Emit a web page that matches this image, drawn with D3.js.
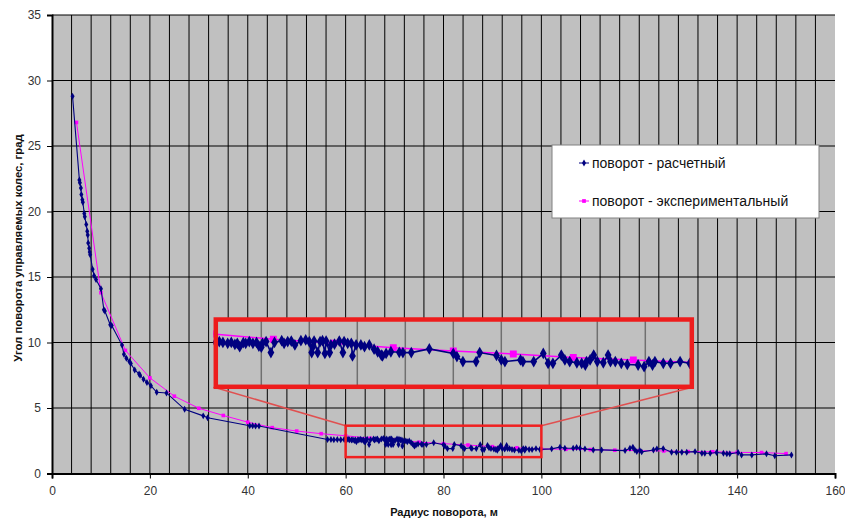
<!DOCTYPE html>
<html>
<head>
<meta charset="utf-8">
<script src="https://cdn.jsdelivr.net/npm/d3@7"></script>
<style>
  body { margin: 0; background: #fff; }
  svg { display: block; font-family: "Liberation Sans", Arial, sans-serif; }
</style>
</head>
<body>
<svg width="845" height="520"></svg>
<script>
// calculated turn: radius (m) and steering angle (deg)
const calcR = [4.2, 5.6, 5.7, 5.9, 6.0, 6.2, 6.3, 6.6, 6.7, 7.0, 7.2, 7.3, 7.4, 7.6, 7.7, 7.8, 8.3, 8.6, 9.0, 10.0,
  10.6, 10.8, 11.9, 12.2, 14.3, 14.7, 15.2, 15.8, 16.1, 16.9, 17.8, 18.0, 18.7, 19.4, 20.2, 21.4, 23.4, 27.1, 30.9, 31.8,
  40.4, 41.0, 41.6, 42.3, 56.3, 57.0, 57.6, 58.3, 59.0, 59.7,
  60.2, 60.5, 60.8, 61.2, 61.5, 61.8, 62.0, 62.2, 62.5, 62.7, 63.0, 63.3, 63.6, 63.8, 64.0, 64.1, 64.4, 64.8, 65.1, 65.7,
  65.9, 66.2, 66.5, 66.8, 67.3, 67.7, 68.0, 68.2, 68.3, 68.4, 68.7, 68.9, 69.1, 69.3, 69.4, 69.7, 69.8, 70.1, 70.5, 70.8,
  70.9, 71.2, 71.5, 71.6, 71.9, 72.3, 72.6, 73.0, 73.4, 73.7, 74.0, 74.1, 74.4, 74.8, 75.5, 75.8, 76.5, 78.0, 80.0, 80.3,
  80.8, 81.9, 82.2, 83.6, 84.0, 84.3, 85.6, 85.8, 86.7, 87.5, 87.9, 88.3, 89.0, 89.3, 89.7, 90.3, 90.7, 91.0, 91.1, 91.4,
  91.7, 92.0, 92.5, 92.9, 93.1, 93.5, 94.0, 94.5, 95.4, 95.9, 96.3, 96.6, 96.8, 97.5, 98.1, 98.9, 99.7,
  102.1, 103.8, 104.8, 106.5, 107.2, 107.9, 108.9, 110.6, 112.3, 117.1, 118.1, 118.7, 119.1, 119.5, 120.1, 120.5, 122.9,
  123.6, 124.9, 126.6, 127.6, 128.7, 129.7, 131.4, 132.8, 133.4, 134.5, 135.8, 137.2, 137.9, 138.5, 140.2, 140.9, 143.0,
  146.0, 147.7, 151.1];
const calcAngle = [28.8, 22.4, 22.2, 21.8, 21.3, 20.9, 20.7, 19.85, 19.6, 19.0, 18.5, 18.2, 17.6, 17.2, 16.9, 16.7, 15.6, 15.1, 14.8, 14.1,
  12.5, 12.4, 11.35, 11.3, 9.8, 9.1, 8.8, 8.55, 8.4, 7.9, 7.6, 7.5, 7.2, 6.95, 6.7, 6.2, 6.15, 4.9, 4.4, 4.25,
  3.65, 3.64, 3.62, 3.62, 2.6, 2.6, 2.58, 2.6, 2.58, 2.6,
  2.58, 2.61, 2.58, 2.55, 2.58, 2.51, 2.55, 2.43, 2.57, 2.55, 2.61, 2.55, 2.58, 2.45, 2.41, 2.55, 2.61, 2.22, 2.58, 2.64,
  2.55, 2.61, 2.63, 2.49, 2.64, 2.67, 2.61, 2.22, 2.43, 2.63, 2.22, 2.61, 2.64, 2.19, 2.63, 2.22, 2.49, 2.52, 2.63, 2.22,
  2.61, 2.55, 2.55, 2.1, 2.49, 2.49, 2.43, 2.49, 2.34, 2.25, 2.13, 2.1, 2.19, 2.25, 2.23, 2.22, 2.22, 2.35, 2.19, 2.08,
  1.9, 1.9, 2.22, 2.12, 1.96, 1.9, 1.96, 1.9, 1.9, 2.19, 1.84, 1.84, 2.13, 1.96, 1.9, 1.86, 1.84, 1.78, 1.9, 1.96,
  2.13, 1.9, 1.86, 2.13, 1.9, 1.9, 1.84, 1.8, 1.78, 1.72, 1.9, 1.78, 1.9, 1.84, 1.84, 1.9, 1.84,
  1.88, 2.01, 1.93, 1.93, 1.98, 1.93, 1.88, 1.8, 1.8, 1.75, 1.93, 2.01, 1.8, 1.67, 1.75, 1.65, 1.8,
  1.88, 1.9, 1.63, 1.63, 1.63, 1.63, 1.67, 1.55, 1.55, 1.55, 1.6, 1.55, 1.5, 1.5, 1.6, 1.42, 1.42,
  1.5, 1.35, 1.42];

// experimental turn
const expR = [5, 10, 15, 20, 25, 30, 35, 40, 45, 50, 55, 60, 65, 70, 75, 80, 85, 90, 95, 100,
  105, 110, 115, 120, 125, 130, 135, 140, 145, 150];
const expAngle = [26.8, 13.8, 9.4, 7.3, 5.9, 4.98, 4.43, 3.92, 3.5, 3.24, 3.04, 2.88, 2.69, 2.55, 2.39, 2.28, 2.17, 2.05, 1.96, 1.87,
  1.85, 1.82, 1.78, 1.74, 1.72, 1.67, 1.66, 1.61, 1.6, 1.52];

const seriesNames = ["поворот - расчетный", "поворот - экспериментальный"];
const xTicks = [0, 20, 40, 60, 80, 100, 120, 140, 160];
const yTicks = [0, 5, 10, 15, 20, 25, 30, 35];
const xTitle = "Радиус поворота, м";
const yTitle = "Угол поворота управляемых колес, град";

// zoomed window (main chart) and its enlarged view
const zoomX = [60, 100];
const zoomY = [1.25, 3.65];
const insetY = [1.0, 3.4];

const navy = "#000080";
const pink = "#ff00ff";

const calc = calcR.map((r, i) => ({ r: r, a: calcAngle[i] }));
const exper = expR.map((r, i) => ({ r: r, a: expAngle[i] }));

const svg = d3.select("svg");

const x = d3.scaleLinear().domain([0, 160]).range([52, 835]);
const y = d3.scaleLinear().domain([0, 35]).range([473.5, 15]);

// plot area
svg.append("rect")
  .attr("x", x(0)).attr("y", y(35))
  .attr("width", x(160) - x(0)).attr("height", y(0) - y(35))
  .attr("fill", "#c0c0c0");

svg.append("g")
  .selectAll("line")
  .data(d3.range(4, 160, 4))
  .join("line")
  .attr("x1", (d) => x(d)).attr("x2", (d) => x(d))
  .attr("y1", y(0)).attr("y2", y(35))
  .attr("stroke", "#000").attr("stroke-width", 1);

svg.append("g")
  .selectAll("line")
  .data(yTicks.slice(1))
  .join("line")
  .attr("x1", x(0)).attr("x2", x(160))
  .attr("y1", (d) => y(d)).attr("y2", (d) => y(d))
  .attr("stroke", "#000").attr("stroke-width", 1);

function drawSeries(g, xs, ys, data, color, lw, symbol, size) {
  const line = d3.line().x((d) => xs(d.r)).y((d) => ys(d.a));
  g.append("path")
    .datum(data)
    .attr("d", line)
    .attr("fill", "none")
    .attr("stroke", color)
    .attr("stroke-width", lw);
  g.append("g")
    .selectAll("path")
    .data(data)
    .join("path")
    .attr("transform", (d) => `translate(${xs(d.r)},${ys(d.a)})`)
    .attr("d", d3.symbol().type(symbol).size(size))
    .attr("fill", color);
}

const main = svg.append("g");
drawSeries(main, x, y, exper, pink, 1, d3.symbolSquare, 13);
drawSeries(main, x, y, calc, navy, 1.1, d3.symbolDiamond, 14);

// zoom window + connectors
const ix = d3.scaleLinear().domain(zoomX).range([213.3, 693.3]);
const iy = d3.scaleLinear().domain(insetY).range([387, 319.3]);

svg.append("line")
  .attr("x1", x(zoomX[0])).attr("y1", y(zoomY[1]))
  .attr("x2", ix(zoomX[0])).attr("y2", iy(insetY[0]))
  .attr("stroke", "#e05050").attr("stroke-width", 1.5);
svg.append("line")
  .attr("x1", x(zoomX[1])).attr("y1", y(zoomY[1]))
  .attr("x2", ix(zoomX[1])).attr("y2", iy(insetY[0]))
  .attr("stroke", "#e05050").attr("stroke-width", 1.5);

svg.append("rect")
  .attr("x", x(zoomX[0])).attr("y", y(zoomY[1]))
  .attr("width", x(zoomX[1]) - x(zoomX[0]))
  .attr("height", y(zoomY[0]) - y(zoomY[1]))
  .attr("fill", "none")
  .attr("stroke", "#f02020").attr("stroke-width", 2.5);

// inset
const inset = svg.append("g");
inset.append("clipPath").attr("id", "insetClip")
  .append("rect")
  .attr("x", ix(zoomX[0])).attr("y", iy(insetY[1]))
  .attr("width", ix(zoomX[1]) - ix(zoomX[0]))
  .attr("height", iy(insetY[0]) - iy(insetY[1]));

inset.append("rect")
  .attr("x", ix(zoomX[0])).attr("y", iy(insetY[1]))
  .attr("width", ix(zoomX[1]) - ix(zoomX[0]))
  .attr("height", iy(insetY[0]) - iy(insetY[1]))
  .attr("fill", "#c0c0c0");

const inner = inset.append("g").attr("clip-path", "url(#insetClip)");
inner.append("g")
  .selectAll("line")
  .data(d3.range(64, 100, 4))
  .join("line")
  .attr("x1", (d) => ix(d)).attr("x2", (d) => ix(d))
  .attr("y1", iy(insetY[0])).attr("y2", iy(insetY[1]))
  .attr("stroke", "#707070").attr("stroke-width", 1.5);

const near = (d) => d.r >= 55 && d.r <= 105;
drawSeries(inner, ix, iy, exper.filter(near), pink, 1.5, d3.symbolSquare, 48);
drawSeries(inner, ix, iy, calc.filter(near), navy, 1.6, d3.symbolDiamond, 40);

inset.append("rect")
  .attr("x", ix(zoomX[0]) + 2.5).attr("y", iy(insetY[1]) + 0.2)
  .attr("width", ix(zoomX[1]) - ix(zoomX[0]) - 4)
  .attr("height", iy(insetY[0]) - iy(insetY[1]) - 0.4)
  .attr("fill", "none")
  .attr("stroke", "#ee1c1c").attr("stroke-width", 4.5);

// axes
const xAxis = svg.append("g")
  .attr("transform", `translate(0,${y(0)})`)
  .call(d3.axisBottom(x).tickValues(xTicks).tickSize(5).tickPadding(8));
const yAxis = svg.append("g")
  .attr("transform", `translate(${x(0)},0)`)
  .call(d3.axisLeft(y).tickValues(yTicks).tickSize(5).tickPadding(6));

[xAxis, yAxis].forEach((a) => {
  a.select(".domain").attr("stroke", "#000").attr("stroke-width", 2);
  a.selectAll(".tick line").attr("stroke", "#000");
  a.selectAll(".tick text")
    .attr("fill", "#333")
    .style("font-size", "12px")
    .style("font-family", '"Liberation Sans", Arial, sans-serif');
});

svg.append("text")
  .attr("x", 444).attr("y", 516)
  .attr("text-anchor", "middle")
  .attr("font-size", 11).attr("font-weight", "bold")
  .attr("fill", "#111")
  .text(xTitle);

svg.append("text")
  .attr("transform", "translate(22,248) rotate(-90)")
  .attr("text-anchor", "middle")
  .attr("font-size", 11.3).attr("font-weight", "bold")
  .attr("fill", "#111")
  .text(yTitle);

// legend
const legend = svg.append("g").attr("transform", "translate(552,145)");
legend.append("rect")
  .attr("width", 267).attr("height", 73)
  .attr("fill", "#fff").attr("stroke", "#808080");

const items = legend.selectAll("g.item")
  .data([
    { name: seriesNames[0], color: navy, symbol: d3.symbolDiamond },
    { name: seriesNames[1], color: pink, symbol: d3.symbolSquare }
  ])
  .join("g")
  .attr("class", "item")
  .attr("transform", (d, i) => `translate(0,${18 + i * 38})`);

items.append("line")
  .attr("x1", 27).attr("x2", 37)
  .attr("stroke", (d) => d.color).attr("stroke-width", 1);
items.append("path")
  .attr("transform", "translate(32,0)")
  .attr("d", (d) => d3.symbol().type(d.symbol).size(14)())
  .attr("fill", (d) => d.color);
items.append("text")
  .attr("x", 40).attr("y", 5)
  .attr("font-size", 14)
  .attr("fill", "#111")
  .text((d) => d.name);
</script>
</body>
</html>
